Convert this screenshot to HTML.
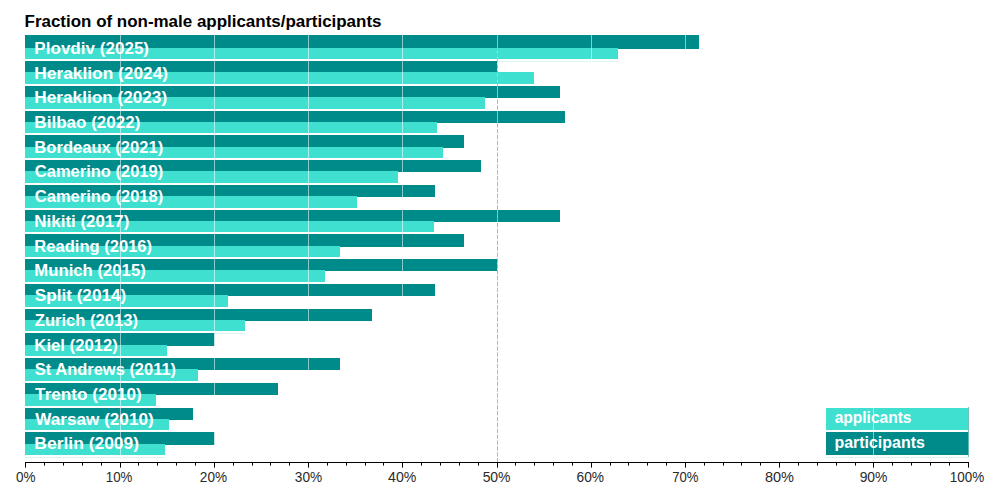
<!DOCTYPE html>
<html><head><meta charset="utf-8"><style>
html,body{margin:0;padding:0;background:#fff;}
svg{display:block;}
.title{font-family:"Liberation Sans",sans-serif;font-weight:bold;font-size:16px;fill:#000;}
.lab{font-family:"Liberation Sans",sans-serif;font-weight:bold;font-size:16px;fill:#fff;}
.tick{font-family:"Liberation Sans",sans-serif;font-size:14px;fill:#2a2a2a;}
</style></head><body>
<svg width="1000" height="500" viewBox="0 0 1000 500">
<rect width="1000" height="500" fill="#fff"/>
<rect x="25" y="35" width="674" height="14" fill="#008b8b"/>
<rect x="25" y="48" width="593" height="11" fill="#40e0d0"/>
<rect x="25" y="61" width="593" height="1" fill="#dcf7f3"/>
<rect x="25" y="61" width="472" height="12" fill="#008b8b"/>
<rect x="25" y="72" width="509" height="12" fill="#40e0d0"/>
<rect x="25" y="86" width="509" height="1" fill="#dcf7f3"/>
<rect x="25" y="86" width="535" height="12" fill="#008b8b"/>
<rect x="25" y="97" width="460" height="12" fill="#40e0d0"/>
<rect x="25" y="111" width="460" height="1" fill="#dcf7f3"/>
<rect x="25" y="111" width="540" height="12" fill="#008b8b"/>
<rect x="25" y="122" width="412" height="11" fill="#40e0d0"/>
<rect x="25" y="135" width="412" height="1" fill="#dcf7f3"/>
<rect x="25" y="135" width="439" height="13" fill="#008b8b"/>
<rect x="25" y="147" width="418" height="11" fill="#40e0d0"/>
<rect x="25" y="160" width="418" height="1" fill="#dcf7f3"/>
<rect x="25" y="160" width="456" height="12" fill="#008b8b"/>
<rect x="25" y="171" width="373" height="12" fill="#40e0d0"/>
<rect x="25" y="185" width="373" height="1" fill="#dcf7f3"/>
<rect x="25" y="185" width="410" height="12" fill="#008b8b"/>
<rect x="25" y="196" width="332" height="12" fill="#40e0d0"/>
<rect x="25" y="210" width="332" height="1" fill="#dcf7f3"/>
<rect x="25" y="210" width="535" height="12" fill="#008b8b"/>
<rect x="25" y="221" width="409" height="11" fill="#40e0d0"/>
<rect x="25" y="234" width="409" height="1" fill="#dcf7f3"/>
<rect x="25" y="234" width="439" height="13" fill="#008b8b"/>
<rect x="25" y="246" width="315" height="11" fill="#40e0d0"/>
<rect x="25" y="259" width="315" height="1" fill="#dcf7f3"/>
<rect x="25" y="259" width="472.5" height="12" fill="#008b8b"/>
<rect x="25" y="270" width="300" height="12" fill="#40e0d0"/>
<rect x="25" y="284" width="300" height="1" fill="#dcf7f3"/>
<rect x="25" y="284" width="410" height="12" fill="#008b8b"/>
<rect x="25" y="295" width="203" height="12" fill="#40e0d0"/>
<rect x="25" y="309" width="203" height="1" fill="#dcf7f3"/>
<rect x="25" y="309" width="347" height="12" fill="#008b8b"/>
<rect x="25" y="320" width="220" height="11" fill="#40e0d0"/>
<rect x="25" y="333" width="220" height="1" fill="#dcf7f3"/>
<rect x="25" y="333" width="189.5" height="13" fill="#008b8b"/>
<rect x="25" y="345" width="142" height="11" fill="#40e0d0"/>
<rect x="25" y="358" width="142" height="1" fill="#dcf7f3"/>
<rect x="25" y="358" width="315" height="12" fill="#008b8b"/>
<rect x="25" y="369" width="173" height="12" fill="#40e0d0"/>
<rect x="25" y="383" width="173" height="1" fill="#dcf7f3"/>
<rect x="25" y="383" width="253" height="12" fill="#008b8b"/>
<rect x="25" y="394" width="131" height="12" fill="#40e0d0"/>
<rect x="25" y="408" width="131" height="1" fill="#dcf7f3"/>
<rect x="25" y="408" width="168" height="12" fill="#008b8b"/>
<rect x="25" y="419" width="144" height="11" fill="#40e0d0"/>
<rect x="25" y="432" width="144" height="1" fill="#dcf7f3"/>
<rect x="25" y="432" width="189.5" height="13" fill="#008b8b"/>
<rect x="25" y="444" width="140" height="11" fill="#40e0d0"/>
<rect x="25" y="457" width="140" height="1" fill="#dcf7f3"/>
<rect x="826" y="408" width="142.5" height="22" fill="#40e0d0"/>
<rect x="826" y="432" width="142.5" height="23" fill="#008b8b"/>
<rect x="826" y="457" width="142.5" height="1" fill="#dcf7f3"/>
<rect x="968" y="407" width="1" height="50" fill="#5fb5b0" opacity="0.8"/>
<text x="24.57" y="26.60" class="title" textLength="356.91" lengthAdjust="spacingAndGlyphs">Fraction of non-male applicants/participants</text>
<text x="34.37" y="53.77" class="lab" textLength="114.69" lengthAdjust="spacingAndGlyphs">Plovdiv (2025)</text>
<text x="34.37" y="78.50" class="lab" textLength="133.75" lengthAdjust="spacingAndGlyphs">Heraklion (2024)</text>
<text x="34.37" y="103.23" class="lab" textLength="132.78" lengthAdjust="spacingAndGlyphs">Heraklion (2023)</text>
<text x="34.37" y="127.96" class="lab" textLength="106.09" lengthAdjust="spacingAndGlyphs">Bilbao (2022)</text>
<text x="34.37" y="152.69" class="lab" textLength="128.86" lengthAdjust="spacingAndGlyphs">Bordeaux (2021)</text>
<text x="34.80" y="177.42" class="lab" textLength="128.44" lengthAdjust="spacingAndGlyphs">Camerino (2019)</text>
<text x="34.80" y="202.15" class="lab" textLength="128.44" lengthAdjust="spacingAndGlyphs">Camerino (2018)</text>
<text x="34.37" y="226.88" class="lab" textLength="94.96" lengthAdjust="spacingAndGlyphs">Nikiti (2017)</text>
<text x="34.37" y="251.61" class="lab" textLength="117.71" lengthAdjust="spacingAndGlyphs">Reading (2016)</text>
<text x="34.37" y="276.34" class="lab" textLength="111.40" lengthAdjust="spacingAndGlyphs">Munich (2015)</text>
<text x="34.80" y="301.07" class="lab" textLength="91.35" lengthAdjust="spacingAndGlyphs">Split (2014)</text>
<text x="34.80" y="325.80" class="lab" textLength="103.25" lengthAdjust="spacingAndGlyphs">Zurich (2013)</text>
<text x="34.37" y="350.53" class="lab" textLength="83.48" lengthAdjust="spacingAndGlyphs">Kiel (2012)</text>
<text x="34.80" y="375.26" class="lab" textLength="141.30" lengthAdjust="spacingAndGlyphs">St Andrews (2011)</text>
<text x="35.13" y="399.99" class="lab" textLength="106.57" lengthAdjust="spacingAndGlyphs">Trento (2010)</text>
<text x="35.22" y="424.72" class="lab" textLength="118.47" lengthAdjust="spacingAndGlyphs">Warsaw (2010)</text>
<text x="34.37" y="449.45" class="lab" textLength="104.71" lengthAdjust="spacingAndGlyphs">Berlin (2009)</text>
<text x="834.66" y="423.30" class="lab" textLength="76.81" lengthAdjust="spacingAndGlyphs">applicants</text>
<text x="834.41" y="448.20" class="lab" textLength="90.44" lengthAdjust="spacingAndGlyphs">participants</text>
<line x1="120.5" y1="35" x2="120.5" y2="458" stroke="#fff" stroke-opacity="0.55" stroke-width="1"/>
<line x1="214.5" y1="35" x2="214.5" y2="458" stroke="#fff" stroke-opacity="0.55" stroke-width="1"/>
<line x1="308.5" y1="35" x2="308.5" y2="458" stroke="#fff" stroke-opacity="0.55" stroke-width="1"/>
<line x1="402.5" y1="35" x2="402.5" y2="458" stroke="#fff" stroke-opacity="0.55" stroke-width="1"/>
<line x1="497.5" y1="35" x2="497.5" y2="458" stroke="#fff" stroke-opacity="0.55" stroke-width="1"/>
<line x1="591.5" y1="35" x2="591.5" y2="458" stroke="#fff" stroke-opacity="0.55" stroke-width="1"/>
<line x1="685.5" y1="35" x2="685.5" y2="458" stroke="#fff" stroke-opacity="0.55" stroke-width="1"/>
<line x1="779.5" y1="35" x2="779.5" y2="458" stroke="#fff" stroke-opacity="0.55" stroke-width="1"/>
<line x1="873.5" y1="35" x2="873.5" y2="458" stroke="#fff" stroke-opacity="0.55" stroke-width="1"/>
<line x1="497.5" y1="35" x2="497.5" y2="462" stroke="#ff9a40" stroke-opacity="0.9" stroke-width="1" stroke-dasharray="4.4 1.475"/>
<line x1="25" y1="462.5" x2="969" y2="462.5" stroke="#000" stroke-width="1.1"/>
<line x1="25.5" y1="462" x2="25.5" y2="467.6" stroke="#000" stroke-width="1.05"/>
<line x1="44.5" y1="462" x2="44.5" y2="465.6" stroke="#000" stroke-width="1.05"/>
<line x1="63.5" y1="462" x2="63.5" y2="465.6" stroke="#000" stroke-width="1.05"/>
<line x1="82.5" y1="462" x2="82.5" y2="465.6" stroke="#000" stroke-width="1.05"/>
<line x1="101.5" y1="462" x2="101.5" y2="465.6" stroke="#000" stroke-width="1.05"/>
<line x1="120.5" y1="462" x2="120.5" y2="467.6" stroke="#000" stroke-width="1.05"/>
<line x1="138.5" y1="462" x2="138.5" y2="465.6" stroke="#000" stroke-width="1.05"/>
<line x1="157.5" y1="462" x2="157.5" y2="465.6" stroke="#000" stroke-width="1.05"/>
<line x1="176.5" y1="462" x2="176.5" y2="465.6" stroke="#000" stroke-width="1.05"/>
<line x1="195.5" y1="462" x2="195.5" y2="465.6" stroke="#000" stroke-width="1.05"/>
<line x1="214.5" y1="462" x2="214.5" y2="467.6" stroke="#000" stroke-width="1.05"/>
<line x1="233.5" y1="462" x2="233.5" y2="465.6" stroke="#000" stroke-width="1.05"/>
<line x1="252.5" y1="462" x2="252.5" y2="465.6" stroke="#000" stroke-width="1.05"/>
<line x1="270.5" y1="462" x2="270.5" y2="465.6" stroke="#000" stroke-width="1.05"/>
<line x1="289.5" y1="462" x2="289.5" y2="465.6" stroke="#000" stroke-width="1.05"/>
<line x1="308.5" y1="462" x2="308.5" y2="467.6" stroke="#000" stroke-width="1.05"/>
<line x1="327.5" y1="462" x2="327.5" y2="465.6" stroke="#000" stroke-width="1.05"/>
<line x1="346.5" y1="462" x2="346.5" y2="465.6" stroke="#000" stroke-width="1.05"/>
<line x1="365.5" y1="462" x2="365.5" y2="465.6" stroke="#000" stroke-width="1.05"/>
<line x1="383.5" y1="462" x2="383.5" y2="465.6" stroke="#000" stroke-width="1.05"/>
<line x1="402.5" y1="462" x2="402.5" y2="467.6" stroke="#000" stroke-width="1.05"/>
<line x1="421.5" y1="462" x2="421.5" y2="465.6" stroke="#000" stroke-width="1.05"/>
<line x1="440.5" y1="462" x2="440.5" y2="465.6" stroke="#000" stroke-width="1.05"/>
<line x1="459.5" y1="462" x2="459.5" y2="465.6" stroke="#000" stroke-width="1.05"/>
<line x1="478.5" y1="462" x2="478.5" y2="465.6" stroke="#000" stroke-width="1.05"/>
<line x1="497.5" y1="462" x2="497.5" y2="467.6" stroke="#000" stroke-width="1.05"/>
<line x1="515.5" y1="462" x2="515.5" y2="465.6" stroke="#000" stroke-width="1.05"/>
<line x1="534.5" y1="462" x2="534.5" y2="465.6" stroke="#000" stroke-width="1.05"/>
<line x1="553.5" y1="462" x2="553.5" y2="465.6" stroke="#000" stroke-width="1.05"/>
<line x1="572.5" y1="462" x2="572.5" y2="465.6" stroke="#000" stroke-width="1.05"/>
<line x1="591.5" y1="462" x2="591.5" y2="467.6" stroke="#000" stroke-width="1.05"/>
<line x1="610.5" y1="462" x2="610.5" y2="465.6" stroke="#000" stroke-width="1.05"/>
<line x1="628.5" y1="462" x2="628.5" y2="465.6" stroke="#000" stroke-width="1.05"/>
<line x1="647.5" y1="462" x2="647.5" y2="465.6" stroke="#000" stroke-width="1.05"/>
<line x1="666.5" y1="462" x2="666.5" y2="465.6" stroke="#000" stroke-width="1.05"/>
<line x1="685.5" y1="462" x2="685.5" y2="467.6" stroke="#000" stroke-width="1.05"/>
<line x1="704.5" y1="462" x2="704.5" y2="465.6" stroke="#000" stroke-width="1.05"/>
<line x1="723.5" y1="462" x2="723.5" y2="465.6" stroke="#000" stroke-width="1.05"/>
<line x1="741.5" y1="462" x2="741.5" y2="465.6" stroke="#000" stroke-width="1.05"/>
<line x1="760.5" y1="462" x2="760.5" y2="465.6" stroke="#000" stroke-width="1.05"/>
<line x1="779.5" y1="462" x2="779.5" y2="467.6" stroke="#000" stroke-width="1.05"/>
<line x1="798.5" y1="462" x2="798.5" y2="465.6" stroke="#000" stroke-width="1.05"/>
<line x1="817.5" y1="462" x2="817.5" y2="465.6" stroke="#000" stroke-width="1.05"/>
<line x1="836.5" y1="462" x2="836.5" y2="465.6" stroke="#000" stroke-width="1.05"/>
<line x1="855.5" y1="462" x2="855.5" y2="465.6" stroke="#000" stroke-width="1.05"/>
<line x1="873.5" y1="462" x2="873.5" y2="467.6" stroke="#000" stroke-width="1.05"/>
<line x1="892.5" y1="462" x2="892.5" y2="465.6" stroke="#000" stroke-width="1.05"/>
<line x1="911.5" y1="462" x2="911.5" y2="465.6" stroke="#000" stroke-width="1.05"/>
<line x1="930.5" y1="462" x2="930.5" y2="465.6" stroke="#000" stroke-width="1.05"/>
<line x1="949.5" y1="462" x2="949.5" y2="465.6" stroke="#000" stroke-width="1.05"/>
<line x1="968.5" y1="462" x2="968.5" y2="467.6" stroke="#000" stroke-width="1.05"/>
<text x="16.02" y="482" class="tick" textLength="19.52" lengthAdjust="spacingAndGlyphs">0%</text>
<text x="105.79" y="482" class="tick" textLength="26.57" lengthAdjust="spacingAndGlyphs">10%</text>
<text x="199.85" y="482" class="tick" textLength="27.20" lengthAdjust="spacingAndGlyphs">20%</text>
<text x="294.79" y="482" class="tick" textLength="27.36" lengthAdjust="spacingAndGlyphs">30%</text>
<text x="388.08" y="482" class="tick" textLength="28.24" lengthAdjust="spacingAndGlyphs">40%</text>
<text x="482.64" y="482" class="tick" textLength="27.86" lengthAdjust="spacingAndGlyphs">50%</text>
<text x="576.49" y="482" class="tick" textLength="27.54" lengthAdjust="spacingAndGlyphs">60%</text>
<text x="672.20" y="482" class="tick" textLength="26.29" lengthAdjust="spacingAndGlyphs">70%</text>
<text x="764.93" y="482" class="tick" textLength="29.08" lengthAdjust="spacingAndGlyphs">80%</text>
<text x="859.63" y="482" class="tick" textLength="27.87" lengthAdjust="spacingAndGlyphs">90%</text>
<text x="949.83" y="482" class="tick" textLength="34.49" lengthAdjust="spacingAndGlyphs">100%</text>
</svg>
</body></html>
